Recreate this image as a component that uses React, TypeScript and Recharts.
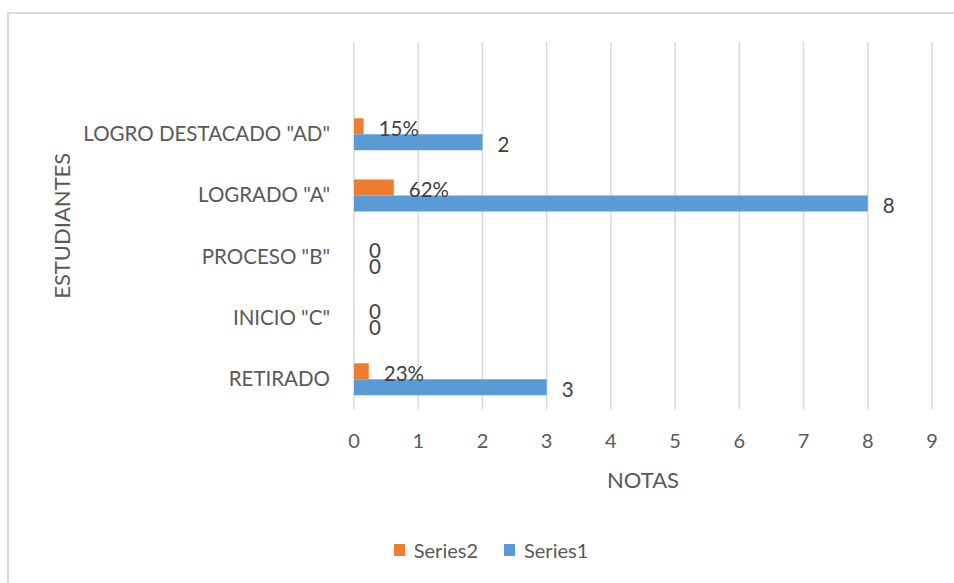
import React from "react";
import { BarChart, Bar, XAxis, YAxis, CartesianGrid, LabelList, Label } from "recharts";

const categories = ["", 'LOGRO DESTACADO "AD"', 'LOGRADO "A"', 'PROCESO "B"', 'INICIO "C"', "RETIRADO"];
const series1Values: (number | null)[] = [null, 2, 8, 0, 0, 3];
const series2Values: (number | null)[] = [null, 0.15, 0.62, 0, 0, 0.23];
const xTicks = [0, 1, 2, 3, 4, 5, 6, 7, 8, 9];
const series1Name = "Series1";
const series2Name = "Series2";
const xTitle = "NOTAS";
const yTitle = "ESTUDIANTES";

const data = categories.map((name, i) => ({
  name,
  s1: series1Values[i],
  s2: series2Values[i],
}));

const FONT = "Lato, 'Open Sans', sans-serif";
const ORANGE = "#ED7D31";
const BLUE = "#5B9BD5";

const makeLabel = (fmt: (v: number) => string) => (props: any) => {
  const { x, y, width, height, value } = props;
  if (value === null || value === undefined) return null;
  const fs = 20.5;
  return (
    <text
      x={Number(x) + Math.max(0, Number(width) || 0) + 15}
      y={Number(y) + Number(height) / 2 + 0.36 * fs + 2}
      fill="#404040"
      fontSize={fs}
      fontFamily={FONT}
      textAnchor="start"
    >
      {fmt(Number(value))}
    </text>
  );
};

const pctFmt = (v: number) => (v === 0 ? "0" : `${Math.round(v * 100)}%`);
const numFmt = (v: number) => `${v}`;

export default function App() {
  return (
    <div
      style={{
        position: "absolute",
        left: 0,
        top: 0,
        width: 954,
        height: 583,
        overflow: "hidden",
        background: "#fff",
        fontFamily: FONT,
      }}
    >
      <div
        style={{
          position: "absolute",
          left: 7,
          top: 12,
          width: 1200,
          height: 1200,
          borderTop: "2px solid #d9d9d9",
          borderLeft: "2px solid #d9d9d9",
        }}
      />
      <div style={{ position: "absolute", left: 0, top: 0 }}>
        <BarChart
          width={954}
          height={583}
          data={data}
          layout="vertical"
          margin={{ top: 42, right: 22, left: 0, bottom: 73.5 }}
          barGap={0}
        >
          <CartesianGrid horizontal={false} vertical={true} stroke="#d9d9d9" strokeWidth={1.5} />
          <XAxis
            type="number"
            domain={[0, 9]}
            ticks={xTicks}
            interval={0}
            axisLine={false}
            tickLine={false}
            tickSize={0}
            tickMargin={24}
            height={100}
            tick={{ fill: "#595959", fontSize: 20, fontFamily: FONT }}
          >
            <Label
              content={(p: any) => {
                const vb = p.viewBox;
                return (
                  <text
                    x={vb.x + vb.width / 2}
                    y={vb.y + 78}
                    textAnchor="middle"
                    fill="#595959"
                    fontSize={22}
                    fontFamily={FONT}
                  >
                    {xTitle}
                  </text>
                );
              }}
            />
          </XAxis>
          <YAxis
            type="category"
            dataKey="name"
            width={354}
            interval={0}
            axisLine={false}
            tickLine={false}
            tickSize={0}
            tickMargin={24}
            tick={{ fill: "#595959", fontSize: 20.5, fontFamily: FONT }}
          >
            <Label
              content={(p: any) => {
                const vb = p.viewBox;
                const cx = vb.x + 70;
                const cy = vb.y + vb.height / 2;
                return (
                  <text
                    x={cx}
                    y={cy}
                    transform={`rotate(-90 ${cx} ${cy})`}
                    textAnchor="middle"
                    fill="#595959"
                    fontSize={22}
                    fontFamily={FONT}
                  >
                    {yTitle}
                  </text>
                );
              }}
            />
          </YAxis>
          <Bar dataKey="s2" name={series2Name} fill={ORANGE} barSize={16} minPointSize={0.01} isAnimationActive={false}>
            <LabelList dataKey="s2" content={makeLabel(pctFmt)} />
          </Bar>
          <Bar dataKey="s1" name={series1Name} fill={BLUE} barSize={16} minPointSize={0.01} isAnimationActive={false}>
            <LabelList dataKey="s1" content={makeLabel(numFmt)} />
          </Bar>
        </BarChart>
      </div>
      <div
        style={{
          position: "absolute",
          left: 0,
          top: 538,
          width: 982,
          display: "flex",
          justifyContent: "center",
          alignItems: "center",
          fontSize: 20,
          color: "#595959",
          fontFamily: FONT,
        }}
      >
        {[
          { name: series2Name, color: ORANGE },
          { name: series1Name, color: BLUE },
        ].map((it, i) => (
          <div
            key={it.name}
            style={{ display: "flex", alignItems: "center", marginLeft: i === 0 ? 0 : 26 }}
          >
            <span style={{ display: "inline-block", width: 11, height: 12, background: it.color, marginRight: 9 }} />
            <span>{it.name}</span>
          </div>
        ))}
      </div>
    </div>
  );
}
